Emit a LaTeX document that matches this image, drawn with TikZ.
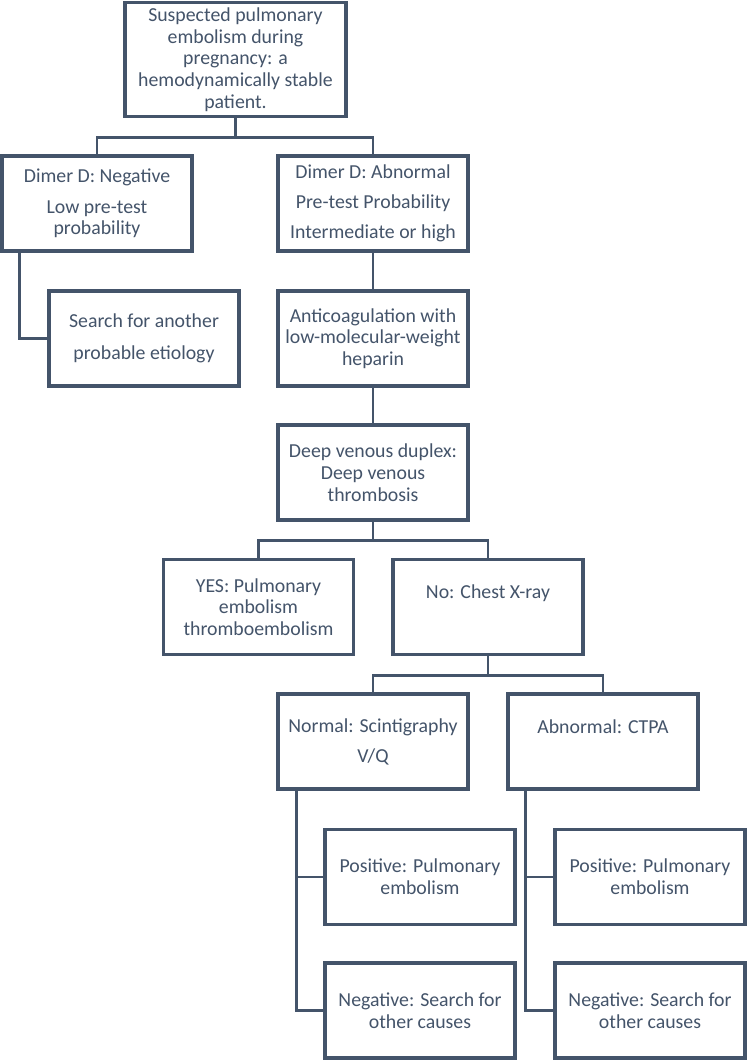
\documentclass[tikz,border=0pt]{standalone}
\usepackage{fontspec}
\setmainfont{Carlito}
\usetikzlibrary{calc}
\definecolor{slate}{HTML}{44546A}
\begin{document}
\begin{tikzpicture}[x=1pt,y=-1pt,
  box/.style={draw=slate, line width=3.6pt, fill=white, minimum width=190pt, minimum height=95pt,
    align=center, text=slate, font=\fontsize{19.8}{21.7}\selectfont, inner sep=1pt},
  conn/.style={draw=slate, line width=2.8pt}]
\useasboundingbox (0,0) rectangle (747,1061);

\node[box, minimum width=221pt, minimum height=114pt] (top) at (235.5,59.5)
  {Suspected pulmonary\\embolism during\\pregnancy: a\\hemodynamically stable\\patient.};
\node[box] (neg) at (97,203.5) {Dimer D: Negative\\[9pt]Low pre-test\\probability};
\node[box] (abn) at (373,203.5) {Dimer D: Abnormal\\[8.3pt]Pre-test Probability\\[8.3pt]Intermediate or high};
\node[box] (search) at (144,338.5) {Search for another\\[10.3pt]probable etiology};
\node[box] (anti) at (373,338.5) {Anticoagulation with\\low-molecular-weight\\heparin};
\node[box] (deep) at (373,472.5) {Deep venous duplex:\\Deep venous\\thrombosis};
\node[box] (yes) at (258.5,607) {YES: Pulmonary\\embolism\\thromboembolism};
\node[box] (no) at (488,607) {No: Chest X-ray\\[8.3pt]\mbox{}};
\node[box] (normal) at (373,741.5) {Normal: Scintigraphy\\[8.3pt]V/Q};
\node[box] (ctpa) at (603,741.5) {Abnormal: CTPA\\[8.3pt]\mbox{}};
\node[box] (posl) at (420,877) {Positive: Pulmonary\\embolism};
\node[box] (negl) at (420,1010.5) {Negative: Search for\\other causes};
\node[box] (posr) at (650,877) {Positive: Pulmonary\\embolism};
\node[box] (negr) at (650,1010.5) {Negative: Search for\\other causes};

\draw[conn] (top.south) -- ++(0,19) -| (neg.north);
\draw[conn] (top.south) -- ++(0,19) -| (abn.north);
\draw[conn] ($(neg.south west)!0.1!(neg.south east)$) |- (search.west);
\draw[conn] (abn.south) -- (anti.north);
\draw[conn] (anti.south) -- (deep.north);
\draw[conn] (deep.south) -- ++(0,19) -| (yes.north);
\draw[conn] (deep.south) -- ++(0,19) -| (no.north);
\draw[conn] (no.south) -- ++(0,19) -| (normal.north);
\draw[conn] (no.south) -- ++(0,19) -| (ctpa.north);
\draw[conn] ($(normal.south west)!0.105!(normal.south east)$) |- (posl.west);
\draw[conn] ($(normal.south west)!0.105!(normal.south east)$) |- (negl.west);
\draw[conn] ($(ctpa.south west)!0.1!(ctpa.south east)$) |- (posr.west);
\draw[conn] ($(ctpa.south west)!0.1!(ctpa.south east)$) |- (negr.west);
\end{tikzpicture}
\end{document}
